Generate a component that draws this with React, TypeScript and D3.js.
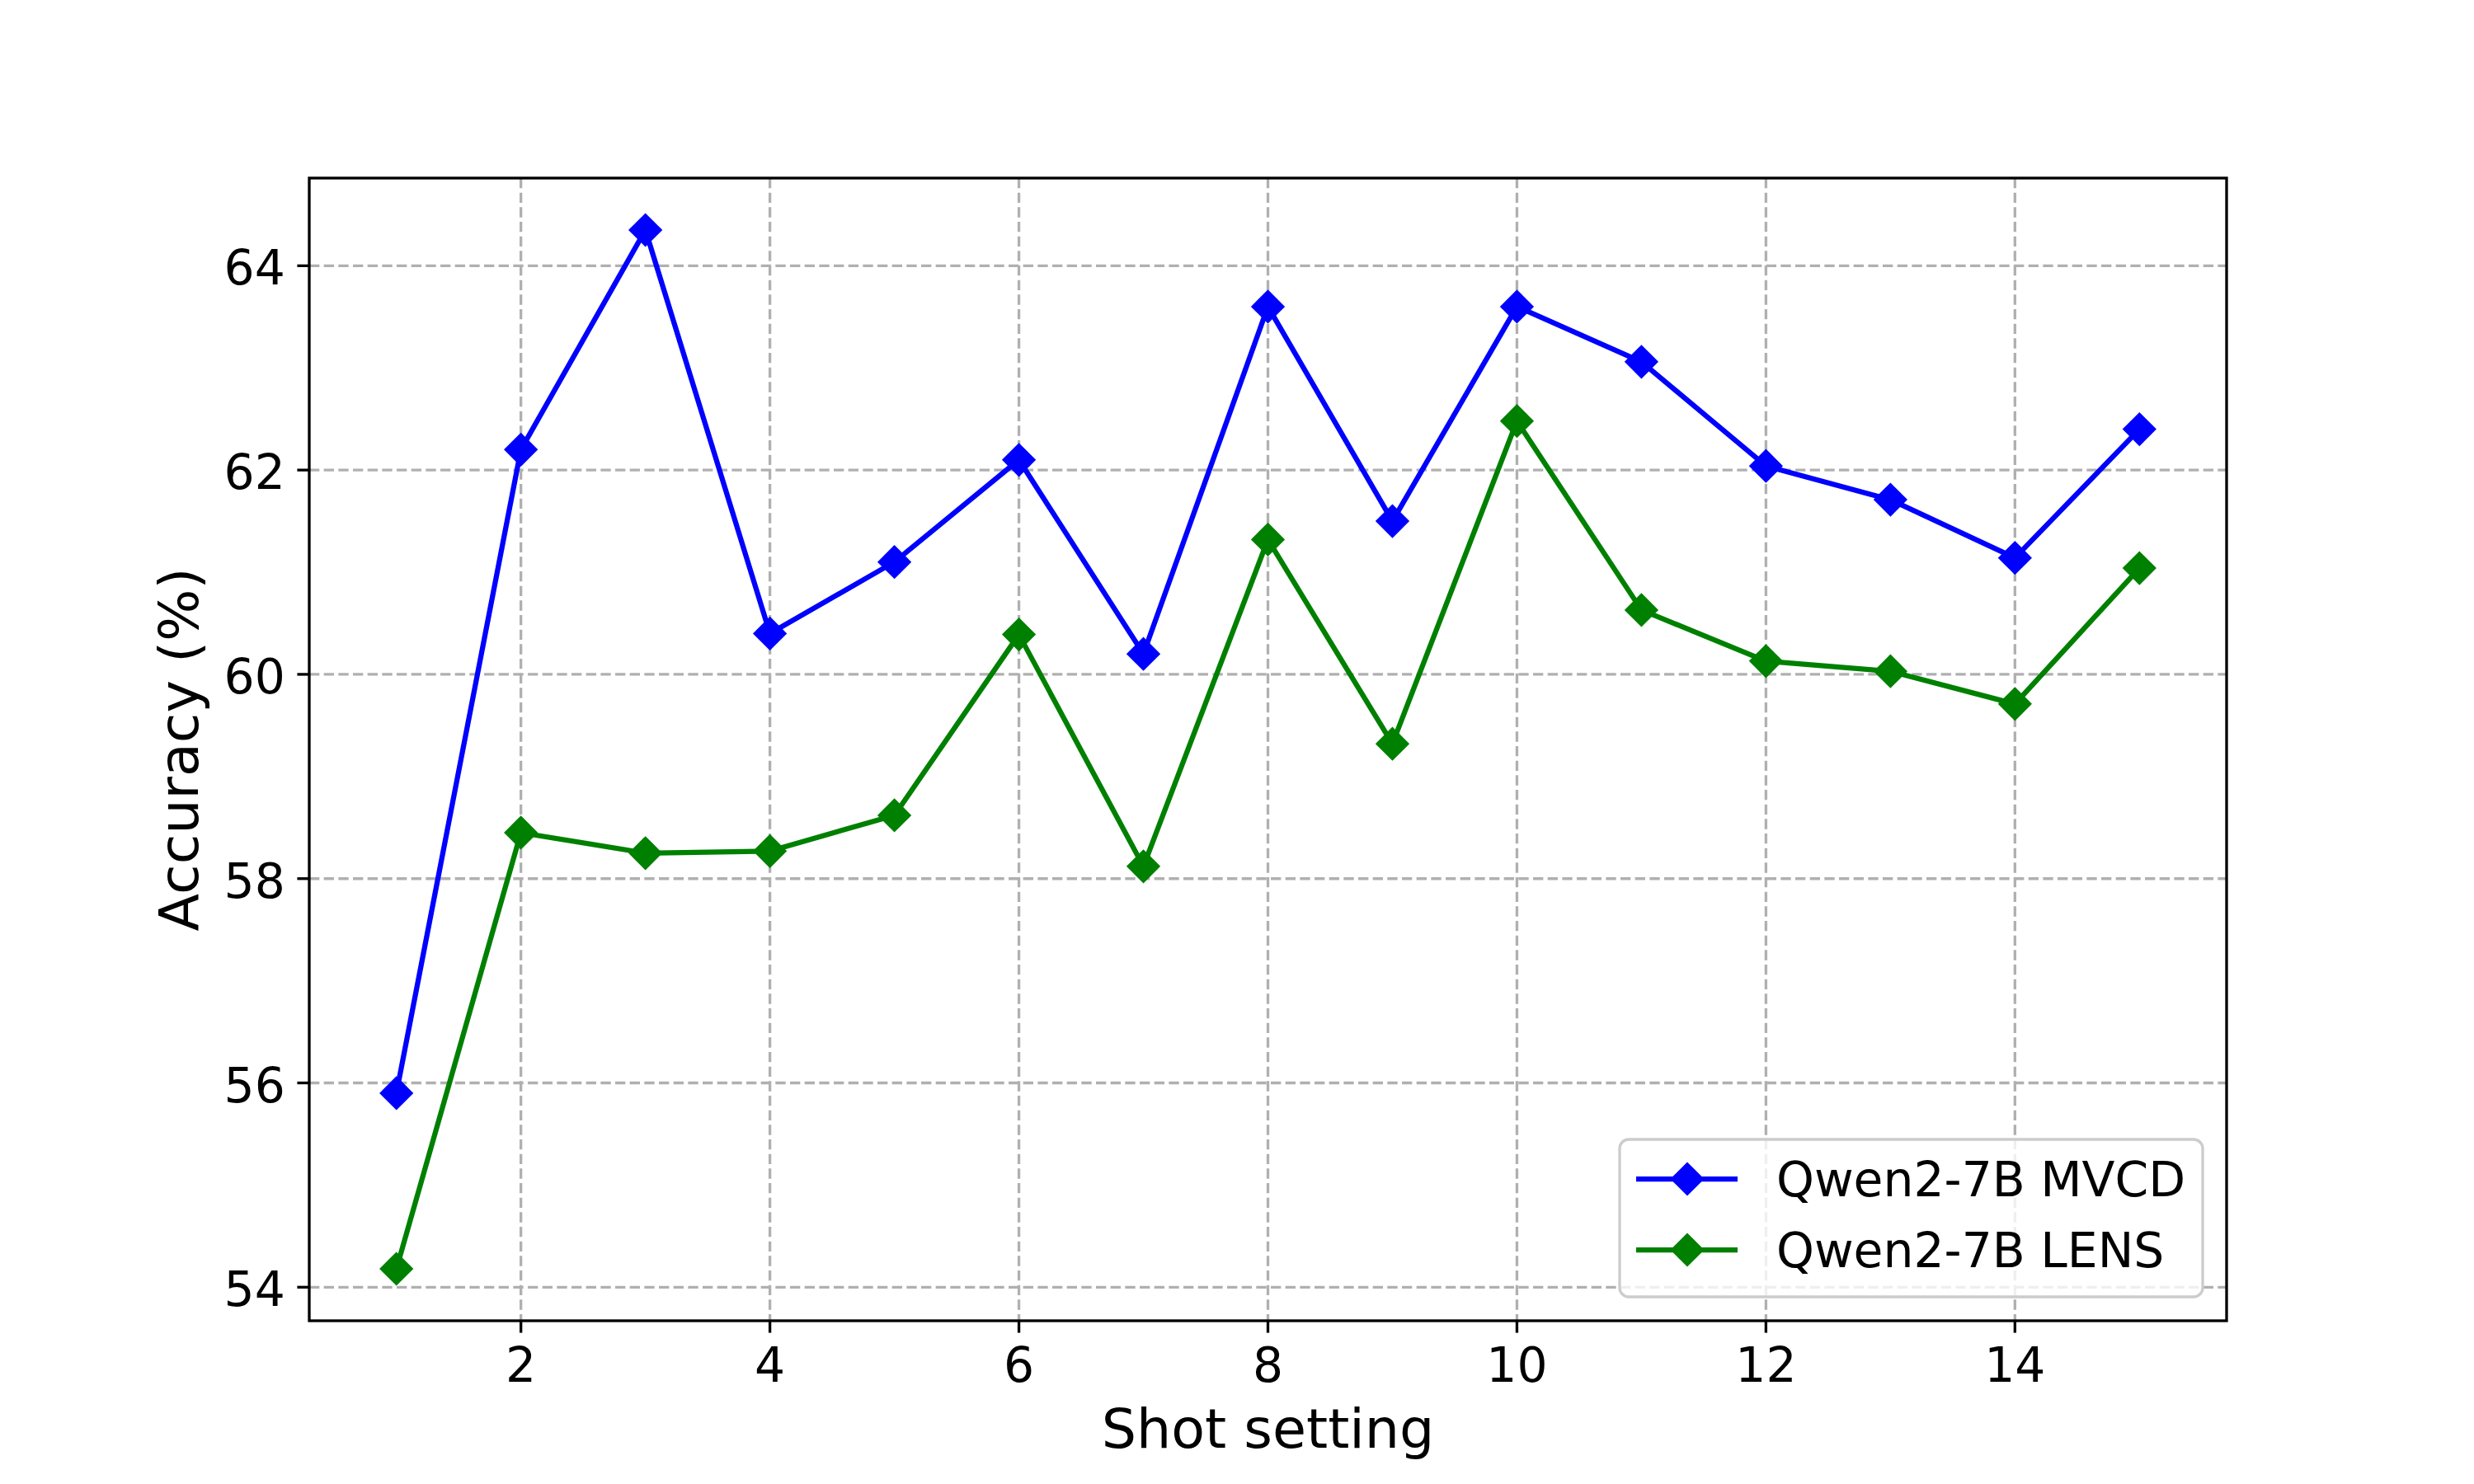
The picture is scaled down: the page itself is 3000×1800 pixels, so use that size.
import React from "react";
import * as d3 from "d3";

const width = 3000;
const height = 1800;
const margin = { top: 216, right: 300, bottom: 198, left: 375 };
const innerWidth = width - margin.left - margin.right;
const innerHeight = height - margin.top - margin.bottom;

// data
const shots = [1, 2, 3, 4, 5, 6, 7, 8, 9, 10, 11, 12, 13, 14, 15];
const mvcd = [55.9, 62.2, 64.35, 60.4, 61.1, 62.1, 60.2, 63.6, 61.5, 63.6, 63.06, 62.04, 61.71, 61.14, 62.4];
const lens = [54.18, 58.45, 58.25, 58.27, 58.62, 60.39, 58.12, 61.32, 59.32, 62.48, 60.63, 60.13, 60.03, 59.71, 61.04];
const xTicks = [2, 4, 6, 8, 10, 12, 14];
const yTicks = [54, 56, 58, 60, 62, 64];
const seriesNames = ["Qwen2-7B MVCD", "Qwen2-7B LENS"];
const seriesColors = ["#0000ff", "#008000"];

const font = "DejaVu Sans";
const pt = 300 / 72;

const App = () => {
  const series = [mvcd, lens];
  const allY = [...mvcd, ...lens];
  const [yMin, yMax] = d3.extent(allY) as [number, number];
  const yPad = (yMax - yMin) * 0.05;
  const [xMin, xMax] = d3.extent(shots) as [number, number];
  const xPad = (xMax - xMin) * 0.05;

  const xScale = d3.scaleLinear().domain([xMin - xPad, xMax + xPad]).range([0, innerWidth]);
  const yScale = d3.scaleLinear().domain([yMin - yPad, yMax + yPad]).range([innerHeight, 0]);

  const line = d3
    .line<number>()
    .x((_, i) => xScale(shots[i]))
    .y((d) => yScale(d));

  const side = 7 * pt;
  const diamond = d3.symbol().type(d3.symbolSquare).size(side * side)()!;

  const gridStyle = {
    stroke: "#b0b0b0",
    strokeWidth: 0.8 * pt,
    strokeDasharray: `${3.7 * 0.8 * pt} ${1.6 * 0.8 * pt}`,
  };
  const tickLen = 3.5 * pt;
  const tickFs = 14 * pt;
  const labelFs = 16 * pt;

  // legend, placed lower right like matplotlib
  const legFs = 14 * pt;
  const legW = 707;
  const legH = 191;
  const legX = innerWidth - 29 - legW;
  const legY = innerHeight - 29 - legH;

  return (
    <svg
      width={width}
      height={height}
      style={{ position: "absolute", left: 0, top: 0, background: "#fff" }}
      fontFamily={font}
    >
      <rect width={width} height={height} fill="#fff" />
      <g transform={`translate(${margin.left},${margin.top})`}>
        {/* grid */}
        {xTicks.map((t) => (
          <line key={"gx" + t} x1={xScale(t)} x2={xScale(t)} y1={0} y2={innerHeight} {...gridStyle} />
        ))}
        {yTicks.map((t) => (
          <line key={"gy" + t} x1={0} x2={innerWidth} y1={yScale(t)} y2={yScale(t)} {...gridStyle} />
        ))}

        {/* series */}
        {series.map((s, si) => (
          <g key={"s" + si}>
            <path d={line(s)!} fill="none" stroke={seriesColors[si]} strokeWidth={1.5 * pt} strokeLinejoin="round" />
            {s.map((v, i) => (
              <path
                key={i}
                d={diamond}
                fill={seriesColors[si]}
                transform={`translate(${xScale(shots[i])},${yScale(v)}) rotate(45)`}
              />
            ))}
          </g>
        ))}

        {/* spines */}
        <rect x={0} y={0} width={innerWidth} height={innerHeight} fill="none" stroke="#000" strokeWidth={0.8 * pt} />

        {/* x ticks */}
        {xTicks.map((t) => (
          <g key={"xt" + t} transform={`translate(${xScale(t)},${innerHeight})`}>
            <line y2={tickLen} stroke="#000" strokeWidth={0.8 * pt} />
            <text y={74} textAnchor="middle" fontSize={tickFs}>
              {t}
            </text>
          </g>
        ))}
        {/* y ticks */}
        {yTicks.map((t) => (
          <g key={"yt" + t} transform={`translate(0,${yScale(t)})`}>
            <line x2={-tickLen} stroke="#000" strokeWidth={0.8 * pt} />
            <text x={-tickLen - 3.5 * pt} y={23} textAnchor="end" fontSize={tickFs}>
              {t}
            </text>
          </g>
        ))}

        {/* axis labels */}
        <text x={innerWidth / 2} y={innerHeight + 154} textAnchor="middle" fontSize={labelFs}>
          Shot setting
        </text>
        <text
          transform={`translate(${240 - margin.left},${innerHeight / 2}) rotate(-90)`}
          textAnchor="middle"
          fontSize={labelFs}
        >
          Accuracy (%)
        </text>

        {/* legend */}
        <g transform={`translate(${legX},${legY})`}>
          <rect
            width={legW}
            height={legH}
            rx={11}
            fill="#fff"
            fillOpacity={0.8}
            stroke="#cccccc"
            strokeWidth={0.8 * pt}
          />
          {seriesNames.map((name, i) => {
            const cy = 48 + i * 86;
            return (
              <g key={name} transform={`translate(0,${cy})`}>
                <line x1={20} x2={143} stroke={seriesColors[i]} strokeWidth={1.5 * pt} />
                <path d={diamond} fill={seriesColors[i]} transform="translate(82,0) rotate(45)" />
                <text x={190} y={21} fontSize={legFs}>
                  {name}
                </text>
              </g>
            );
          })}
        </g>
      </g>
    </svg>
  );
};

export default App;
